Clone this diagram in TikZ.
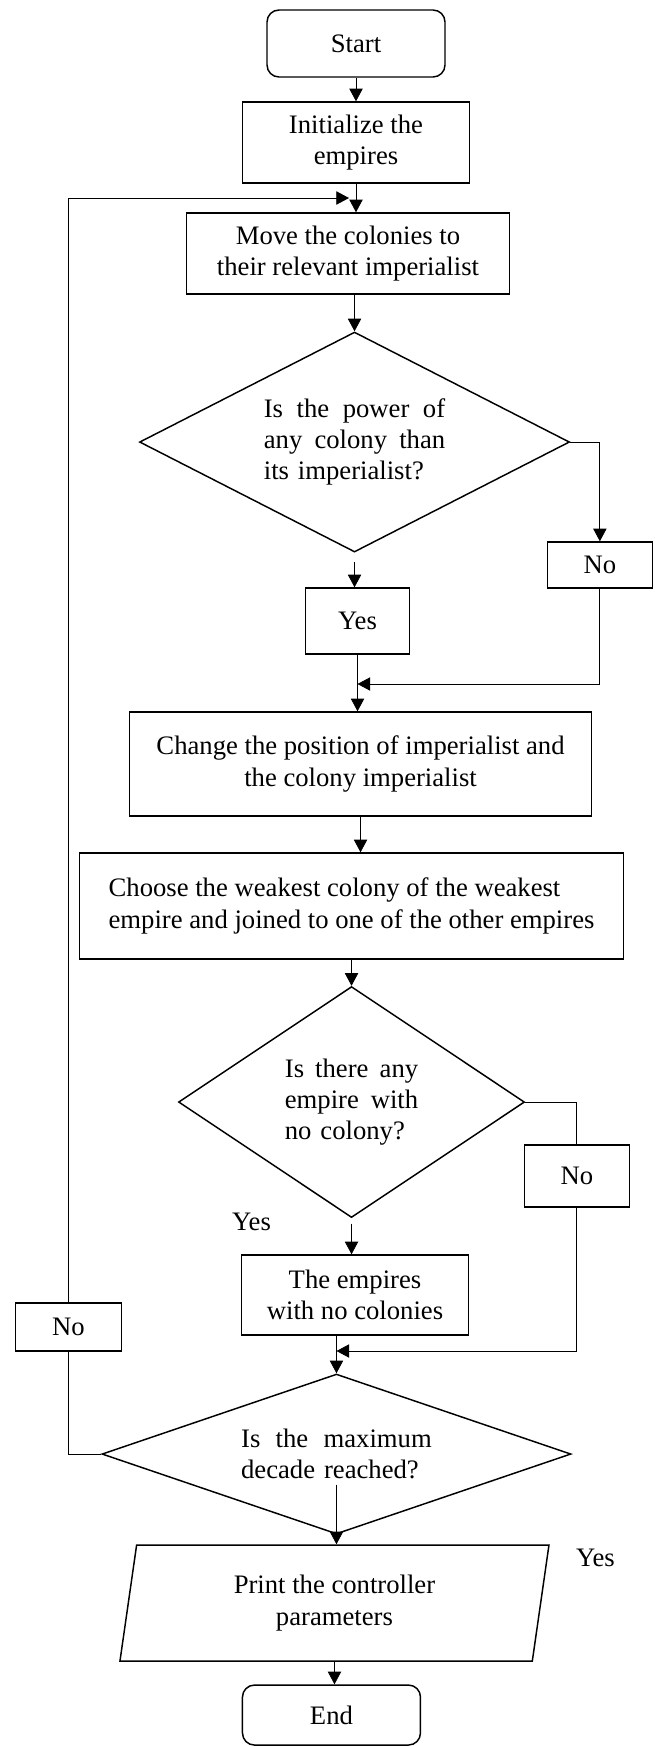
\documentclass[tikz,border=0pt]{standalone}
\usepackage{fontspec}
\setmainfont{Liberation Serif}
\usepackage{tikz}
\usetikzlibrary{positioning, shapes.geometric, arrows.meta}
\tikzstyle{startstop} = [rectangle, rounded corners=9pt, minimum width=133.5pt, text centered, draw=black, line width=1.1pt]
\tikzstyle{process} = [rectangle, text centered, draw=black, line width=1.1pt]
\tikzstyle{answer} = [rectangle, minimum width=78.75pt, text centered, draw=black, line width=1.1pt]
\tikzstyle{io} = [trapezium, trapezium left angle=75.5, trapezium right angle=104.5, trapezium stretches body, minimum width=321.75pt, minimum height=87pt, text centered, draw=black, line width=1.1pt]
\tikzstyle{decision} = [diamond, text centered, draw=black, line width=1.1pt, inner sep=2pt]
\tikzstyle{arrow} = [->, >={Triangle[length=9.5pt, width=10pt]}, line width=0.6pt]
\tikzstyle{line} = [line width=0.6pt]

\begin{document}
\begin{tikzpicture}[x=0.75pt, y=-0.75pt, node distance=80pt, align=center, font=\fontsize{20}{23.5}\selectfont]
    \useasboundingbox (0,0) rectangle (654,1746);
    %定义流程图具体形状
    \node (start) [startstop, minimum height=50.25pt] at (356,43.5) {Start};
    \node (init) [process, below of = start, yshift = 5.7pt, minimum width=170.25pt, minimum height=60.75pt] {Initialize the\\empires};
    \node (move) [process, below of = init, yshift = -3.2pt, xshift = -6pt, minimum width=242.25pt, minimum height=60.75pt] {Move the colonies to\\their relevant imperialist};
    \node (dec1) [decision, below of = move, yshift = -61.4pt, xshift = 4.9pt, aspect=2, minimum width=322.5pt, minimum height=165pt, text width=136pt, align=left] {Is\hfill the\hfill power\hfill of\\any\hfill colony\hfill than\\its imperialist?};
    \node (no1) [answer, below of = dec1, yshift = -12.25pt, xshift = 184pt, minimum height=34.5pt] {No};
    \node (yes1) [answer, below of = dec1, yshift = -54.25pt, xshift = 2.25pt, minimum width=78pt, minimum height=49.5pt] {Yes};
    \node (change) [process, below of = yes1, yshift = -27.25pt, xshift = 2.25pt, minimum width=346.5pt, minimum height=78pt] {Change the position of imperialist and\\the colony imperialist};
    \node (choose) [process, below of = change, yshift = -26.5pt, xshift = -6.75pt, minimum width=408pt, minimum height=79.5pt, align=left] {Choose the weakest colony of the weakest\\empire and joined to one of the other empires};
    \node (dec2) [decision, below of = choose, yshift = -67pt, aspect=1.5, minimum width=259.5pt, minimum height=173.25pt, text width=100pt, align=left] {Is\hfill there\hfill any\\empire\hfill with\\no colony?};
    \node (no2) [answer, below of = dec2, yshift = 24.5pt, xshift = 169pt, minimum height=46.5pt] {No};
    \node (yes2) [below of = dec2, yshift = -10pt, xshift = -75pt] {Yes};
    \node (empires) [process, below of = dec2, yshift = -64.75pt, xshift = 2.6pt, minimum width=170.25pt, minimum height=60pt] {The empires\\with no colonies};
    \node (dec3) [decision, below of = empires, yshift = -39.25pt, xshift = -13.9pt, aspect=3, minimum width=351.75pt, minimum height=120pt, text width=143pt, align=left] {Is\hfill the\hfill maximum\\decade reached?};
    \node (no3) [answer, above of = dec3, yshift = 15.25pt, xshift = -201pt, minimum width=79.5pt, minimum height=36pt] {No};
    \node (yes3) [below of = dec3, yshift = 2pt, xshift = 194.25pt] {Yes};
    \node (print) [io, below of = dec3, yshift = -31.75pt, xshift = -1.5pt] {Print the controller\\parameters};
    \node (stop) [startstop, below of = print, yshift = -4pt, xshift = -2.25pt, minimum height=45pt] {End};
    \coordinate (loopin) at (349,198);
    \coordinate (merge1) at (357.5,684);
    \coordinate (merge2) at (336.5,1351);

    %连接具体形状
    \draw [arrow] (start) -- (init);
    \draw [arrow] (init.south) -- (init.south |- move.north);
    \draw [arrow] (dec1.north |- move.south) -- (dec1.north);
    \draw [arrow] (dec1.east) -| (no1.north);
    \draw [arrow, shorten <= 7pt] (dec1.south) -- (dec1.south |- yes1.north);
    \draw [arrow] (no1.south) |- (merge1);
    \draw [arrow] (yes1.south) -- (yes1.south |- change.north);
    \draw [arrow] (change.south) -- (change.south |- choose.north);
    \draw [arrow] (dec2.north |- choose.south) -- (dec2.north);
    \draw [line] (dec2.east) -| (no2.north);
    \draw [arrow, shorten <= 4pt] (dec2.south) -- (dec2.south |- empires.north);
    \draw [arrow] (no2.south) |- (merge2);
    \draw [arrow] (dec3.north |- empires.south) -- (dec3.north);
    \draw [line] (dec3.west) -| (no3.south);
    \draw [arrow] (no3.north) |- (loopin);
    \draw [arrow] ([yshift=-23pt]dec3.center) -- (dec3.center |- print.north);
    \draw [arrow] (print.south) -- (print.south |- stop.north);
\end{tikzpicture}
\end{document}
